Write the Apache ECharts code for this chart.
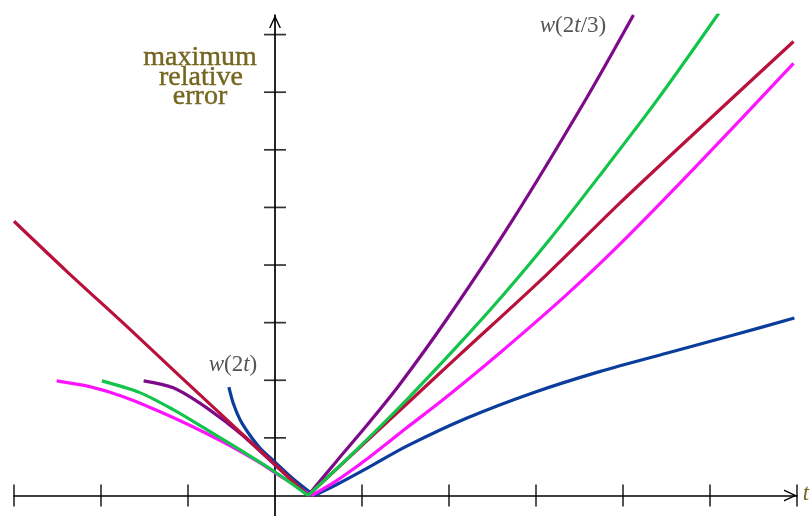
<!DOCTYPE html>
<html><head><meta charset="utf-8">
<script src="https://cdn.jsdelivr.net/npm/echarts@6/dist/echarts.min.js"></script>
<style>html,body{margin:0;padding:0;background:#fff}#c{width:812px;height:516px}</style>
</head><body><div id="c"></div>
<script>
// tick positions
const xTicks = [-3, -2, -1, 1, 2, 3, 4, 5, 6];
const yTicks = [1, 2, 3, 4, 5, 6, 7, 8];

// series values [t, max relative error]
const crimsonLeft  = [[-3,4.76],[-2.4,3.9],[-1.7,2.93],[-1.1,2.08],[-0.4,1.1],[0,0.54],[0.38,0]];
const crimsonRight = [[0.38,0],[1.6,1.71],[2.1,2.41],[3.12,3.83],[3.96,5.07],[4.88,6.37],[5.96,7.88]];
const purpleLeft   = [[-1.51,1.99],[-1.17,1.87],[-0.86,1.6],[-0.55,1.26],[-0.37,1.04],[0,0.53],[0.38,0]];
const purpleRight  = [[0.38,0],[0.71,0.6],[1.09,1.28],[1.42,1.9],[1.97,3.05],[2.73,4.78],[3.57,6.87],[4.12,8.34]];
const greenLeft    = [[-1.99,1.99],[-1.56,1.79],[-1.17,1.49],[-0.78,1.14],[-0.4,0.79],[-0.02,0.43],[0.38,0]];
const greenRight   = [[0.38,0],[0.9,0.74],[1.5,1.64],[2.1,2.6],[2.6,3.44],[3.15,4.43],[3.72,5.53],[4.4,6.88],[5.1,8.37]];
const magentaLeft  = [[-2.51,1.99],[-2.13,1.89],[-1.75,1.72],[-1.36,1.48],[-0.98,1.22],[-0.6,0.93],[-0.21,0.6],[0.1,0.3],[0.42,0]];
const magentaRight = [[0.42,0],[0.7,0.25],[1.08,0.66],[1.51,1.17],[1.97,1.71],[2.58,2.47],[3.34,3.47],[3.95,4.34],[4.87,5.76],[5.96,7.5]];
const blueLeft     = [[-0.53,1.88],[-0.48,1.6],[-0.4,1.31],[-0.29,1.05],[-0.17,0.82],[0,0.58],[0.2,0.3],[0.45,0]];
const blueRight    = [[0.45,0],[0.71,0.19],[1.09,0.5],[1.52,0.86],[2.2,1.34],[2.96,1.78],[3.73,2.15],[4.5,2.47],[5.26,2.78],[5.97,3.08]];

const COLORS = {crimson:'#b8123c', purple:'#7d0a88', green:'#12c44a', magenta:'#ff14ff', blue:'#0a3d9c'};

const chart = echarts.init(document.getElementById('c'), null, {renderer:'canvas'});
const arrowPath = 'path://M0,13 L6,0 L12,13 L10.5,13 L6,3.2 L1.5,13 Z';
const axisCommon = {
  type:'value',
  axisLine:{onZero:true, lineStyle:{color:'#000', width:1.7}, symbol:['none', arrowPath], symbolSize:[12,13], symbolOffset:[0,-6.5]},
  axisTick:{show:false}, axisLabel:{show:false}, splitLine:{show:false}
};
function lineSeries(data, color) {
  return {type:'line', data:data, showSymbol:false, smooth:0.3, silent:true,
          lineStyle:{color:color, width:3.2}, itemStyle:{color:color}};
}
const serif = '"Liberation Serif", "DejaVu Serif", serif';
const titleColor = '#74651f';
const mathRich = {
  i:{fontFamily:serif, fontStyle:'italic', fontSize:23, fill:'#555'},
  n:{fontFamily:serif, fontSize:23, fill:'#555'}
};
chart.setOption({
  animation:false,
  grid:{left:14, right:15, top:15, bottom:0},
  xAxis:Object.assign({}, axisCommon, {min:-3, max:6}),
  yAxis:Object.assign({}, axisCommon, {min:-0.356, max:8.34}),
  series:[
    {type:'scatter', silent:true, symbol:'rect', symbolSize:[1.7,22], itemStyle:{color:'#000'},
     data:xTicks.map(v => [v, 0])},
    {type:'scatter', silent:true, symbol:'rect', symbolSize:[22,1.7], itemStyle:{color:'#000'},
     data:yTicks.map(v => [0, v])},
    lineSeries(blueLeft, COLORS.blue), lineSeries(blueRight, COLORS.blue),
    lineSeries(magentaLeft, COLORS.magenta), lineSeries(magentaRight, COLORS.magenta),
    lineSeries(purpleLeft, COLORS.purple), lineSeries(purpleRight, COLORS.purple),
    lineSeries(crimsonLeft, COLORS.crimson), lineSeries(crimsonRight, COLORS.crimson),
    lineSeries(greenLeft, COLORS.green), lineSeries(greenRight, COLORS.green)
  ],
  graphic:[
    {type:'text', x:200, y:58, style:{text:'maximum', fontFamily:serif, fontSize:28, fill:titleColor, stroke:titleColor, lineWidth:0.4, align:'center', verticalAlign:'middle'}},
    {type:'text', x:201, y:78, style:{text:'relative', fontFamily:serif, fontSize:28, fill:titleColor, stroke:titleColor, lineWidth:0.4, align:'center', verticalAlign:'middle'}},
    {type:'text', x:200, y:97, style:{text:'error', fontFamily:serif, fontSize:28, fill:titleColor, stroke:titleColor, lineWidth:0.4, align:'center', verticalAlign:'middle'}},
    {type:'text', x:233, y:365, style:{text:'{i|w}{n|(2}{i|t}{n|)}', rich:mathRich, align:'center', verticalAlign:'middle'}},
    {type:'text', x:573, y:26, style:{text:'{i|w}{n|(2}{i|t}{n|/3)}', rich:mathRich, align:'center', verticalAlign:'middle'}},
    {type:'text', x:806, y:494, style:{text:'t', fontFamily:serif, fontStyle:'italic', fontSize:23, fill:titleColor, align:'center', verticalAlign:'middle'}}
  ]
});
</script></body></html>
